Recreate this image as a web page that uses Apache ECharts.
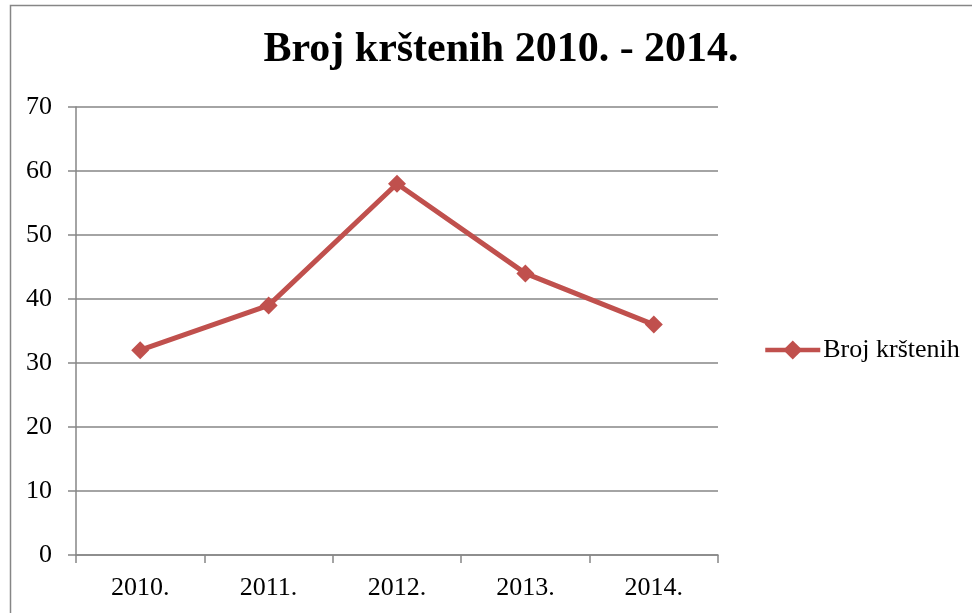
<!DOCTYPE html>
<html>
<head>
<meta charset="utf-8">
<script src="https://cdn.jsdelivr.net/npm/echarts@6/dist/echarts.min.js"></script>
<style>
  html, body { margin: 0; padding: 0; background: #fff; }
  #chart { width: 972px; height: 613px; }
</style>
</head>
<body>
<div id="chart"></div>
<script>
// podaci
var years = ['2010.', '2011.', '2012.', '2013.', '2014.'];
var krsteni = [32, 39, 58, 44, 36];
var seriesName = 'Broj krštenih';
var titleText = 'Broj krštenih 2010. - 2014.';

var axisGray = '#868686';
var red = '#C0504D';

var myChart = echarts.init(document.getElementById('chart'));
var option = {
    backgroundColor: '#fff',
    animation: false,
    graphic: [{
        type: 'rect',
        shape: { x: 10.5, y: 5.5, width: 1000, height: 700 },
        style: { fill: 'none', stroke: axisGray, lineWidth: 1.5 },
        silent: true
    }],
    title: {
        text: titleText,
        left: 496,
        textAlign: 'center',
        top: 24,
        textStyle: {
            fontFamily: 'Liberation Serif',
            fontWeight: 'bold',
            fontSize: 42,
            color: '#000'
        }
    },
    legend: {
        data: [seriesName],
        left: 758,
        top: 332,
        itemWidth: 55,
        itemHeight: 24,
        itemGap: 4,
        lineStyle: { width: 4.5 },
        textStyle: {
            fontFamily: 'Liberation Serif',
            fontSize: 26,
            color: '#000',
            padding: [0, 0, 0, -2]
        }
    },
    grid: {
        left: 76,
        right: 254,
        top: 107,
        bottom: 58,
        containLabel: false
    },
    xAxis: {
        type: 'category',
        data: years,
        boundaryGap: true,
        axisLine: { lineStyle: { color: axisGray, width: 1.5 } },
        axisTick: { show: true, length: 8, lineStyle: { color: axisGray, width: 1.5 } },
        axisLabel: {
            fontFamily: 'Liberation Serif',
            fontSize: 26,
            color: '#000',
            margin: 20
        }
    },
    yAxis: {
        type: 'value',
        min: 0,
        max: 70,
        interval: 10,
        axisLine: { show: true, lineStyle: { color: axisGray, width: 1.5 } },
        axisTick: { show: true, length: 8, lineStyle: { color: axisGray, width: 1.5 } },
        splitLine: { lineStyle: { color: axisGray, width: 1.5 } },
        axisLabel: {
            fontFamily: 'Liberation Serif',
            fontSize: 26,
            color: '#000',
            margin: 24
        }
    },
    series: [{
        name: seriesName,
        type: 'line',
        data: krsteni,
        symbol: 'diamond',
        symbolSize: 18,
        lineStyle: { color: red, width: 5 },
        itemStyle: { color: red },
        z: 10
    }]
};
myChart.setOption(option);
</script>
</body>
</html>
